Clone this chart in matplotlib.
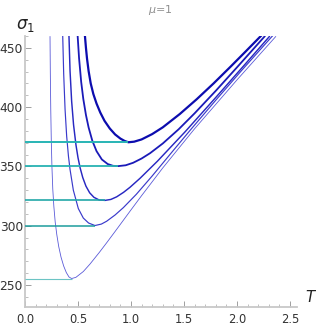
import matplotlib
matplotlib.use("Agg")
import matplotlib.pyplot as plt
from matplotlib.ticker import MultipleLocator, FormatStrFormatter

# curves, lowest minimum first
c1_T = [0.236, 0.239, 0.243, 0.248, 0.254, 0.262, 0.272, 0.285, 0.300, 0.318, 0.340, 0.365, 0.390, 0.415, 0.440,
        0.480, 0.550, 0.613, 0.700, 0.770, 0.850, 0.930, 1.000, 1.100, 1.300, 1.600, 2.000, 2.365]
c1_s = [459.5, 428, 398, 372, 350, 331, 316.5, 303, 292.5, 282.5, 273.5, 266, 260.5, 256.8, 255.5,
        256.5, 261.4, 267.7, 277.4, 285.6, 295.2, 304.9, 313.4, 325.4, 348.8, 381.8, 423, 459.5]

c2_T = [0.356, 0.365, 0.378, 0.393, 0.410, 0.425, 0.456, 0.503, 0.550, 0.600, 0.660,
        0.720, 0.770, 0.850, 0.928, 1.050, 1.200, 1.400, 1.556, 1.800, 2.050, 2.337]
c2_s = [459.5, 428, 398.1, 375.6, 358.6, 347.4, 330, 314.5, 306.5, 302.3, 300.2,
        301.4, 303.8, 309.1, 315.3, 326.5, 342, 363.6, 380.3, 405.9, 431.6, 460.3]

c3_T = [0.415, 0.425, 0.440, 0.458, 0.481, 0.500, 0.520, 0.545, 0.575, 0.610, 0.650, 0.700, 0.755,
        0.810, 0.865, 0.930, 0.990, 1.085, 1.250, 1.510, 1.800, 2.050, 2.305]
c3_s = [459.5, 430.5, 405, 385.2, 368, 357.4, 348.8, 340.6, 333.4, 327.8, 324, 321.7, 321.4,
        322.2, 324.4, 328.2, 332.4, 340, 354.5, 379.2, 408.2, 433.5, 459.5]

c4_T = [0.497, 0.510, 0.530, 0.550, 0.575, 0.600, 0.635, 0.675, 0.725, 0.780, 0.830, 0.880,
        0.950, 1.020, 1.100, 1.180, 1.300, 1.450, 1.600, 1.800, 2.000, 2.260]
c4_s = [459.5, 441.3, 421.3, 406.9, 393.4, 382.9, 371.7, 362.9, 355.9, 352.05, 350.55, 350.3,
        351, 353.1, 356.7, 361.2, 369.4, 381.4, 394.8, 413.8, 433.6, 459.6]

c5_T = [0.566, 0.575, 0.585, 0.600, 0.620, 0.645, 0.675, 0.710, 0.750, 0.800, 0.850, 0.900, 0.940, 0.975,
        1.030, 1.100, 1.200, 1.300, 1.460, 1.620, 1.780, 1.940, 2.080, 2.225]
c5_s = [459.5, 450, 441, 430.5, 420, 411, 403, 395.5, 388.5, 382, 377, 373.5, 371.5, 370.4,
        370.9, 372.8, 377.3, 383, 394.2, 406.7, 420.1, 434.2, 446.8, 460]

# minima (horizontal teal markers)
min_T = [0.44, 0.66, 0.755, 0.88, 0.975]
min_s = [255.5, 300.2, 321.4, 350.3, 370.4]

curves = [(c1_T, c1_s), (c2_T, c2_s), (c3_T, c3_s), (c4_T, c4_s), (c5_T, c5_s)]
blues = ["#5a5ad8", "#3a3acb", "#2828c2", "#1a1ab8", "#0c0cae"]
widths = [0.6, 0.85, 1.05, 1.3, 1.6]
teals = ["#6cc4c4", "#1c9c9c", "#22a8a8", "#28b2b2", "#28b4b4"]
teal_w = [0.8, 1.1, 1.2, 1.3, 1.4]

fig = plt.figure(figsize=(3.16, 3.27), dpi=100)
ax = fig.add_axes([25 / 316, 20 / 327, 272 / 316, 271 / 327])

for (t, s), c, w in zip(curves, blues, widths):
    ax.plot(t, s, color=c, lw=w, zorder=2)

for t, s, c, w in zip(min_T, min_s, teals, teal_w):
    ax.hlines(s, 0, t, color=c, lw=w, zorder=3)

ax.set_xlim(0, 2.566)
ax.set_ylim(231.5, 460)

ax.xaxis.set_major_locator(MultipleLocator(0.5))
ax.xaxis.set_minor_locator(MultipleLocator(0.1))
ax.yaxis.set_major_locator(MultipleLocator(50))
ax.yaxis.set_minor_locator(MultipleLocator(10))
ax.xaxis.set_major_formatter(FormatStrFormatter("%.1f"))

for side in ["top", "right"]:
    ax.spines[side].set_visible(False)
for side in ["left", "bottom"]:
    ax.spines[side].set_color("#c8c8c8")
    ax.spines[side].set_linewidth(1.3)

ax.tick_params(which="major", direction="in", length=4, width=0.7, color="#a0a0a0",
               labelsize=8.3, labelcolor="#333333")
ax.tick_params(which="minor", direction="in", length=2.2, width=0.6, color="#b4b4b4")
ax.tick_params(axis="y", which="major", pad=1.5, labelsize=8.8)
ax.tick_params(axis="x", which="major", pad=4)

fig.text(16 / 316, 1 - 29 / 327, r"$\sigma_1$", fontsize=12, color="#222222", va="baseline")
fig.text(305 / 316, 1 - 302 / 327, r"$T$", fontsize=11, color="#222222", va="baseline")
fig.text(160 / 316, 1 - 13 / 327, r"$\mu$=1", fontsize=8, color="#909090", ha="center", va="baseline")

fig.savefig("out.png", dpi=100)
plt.close(fig)
